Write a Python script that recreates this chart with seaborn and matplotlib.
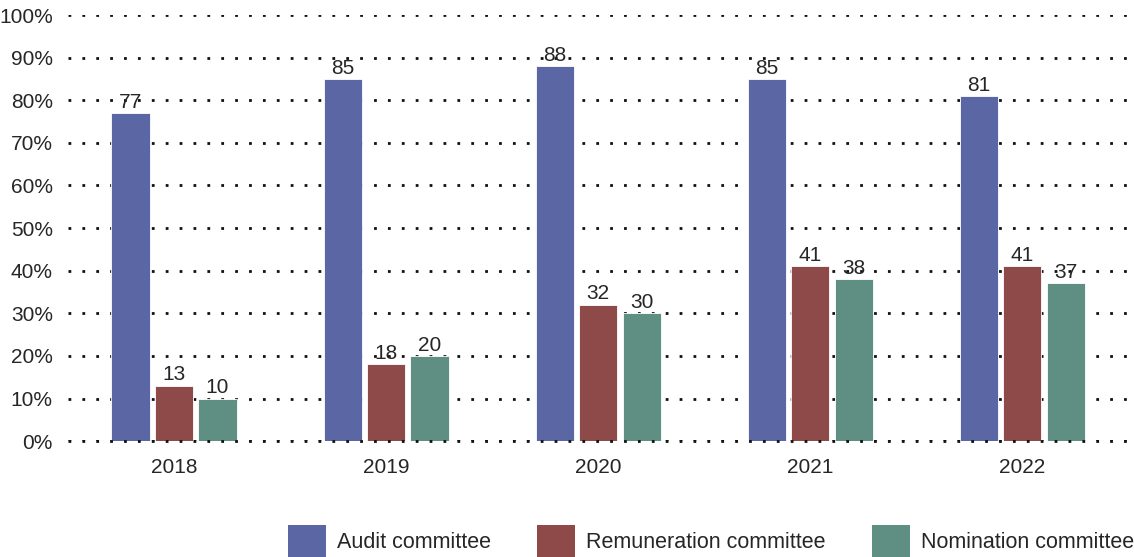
import seaborn as sns
import pandas as pd
from matplotlib import pyplot as plt
from matplotlib.ticker import PercentFormatter
from matplotlib.patches import Patch

years = ["2018", "2019", "2020", "2021", "2022"]
audit = [77, 85, 88, 85, 81]
remuneration = [13, 18, 32, 41, 41]
nomination = [10, 20, 30, 38, 37]
committees = ["Audit committee", "Remuneration committee", "Nomination committee"]
colors = ["#5A67A4", "#8E4A48", "#5E8F82"]

df = pd.DataFrame({
    "year": years * 3,
    "value": audit + remuneration + nomination,
    "committee": [c for c in committees for _ in years],
})

sns.set_style("white")
plt.rcParams["font.family"] = ["Liberation Sans", "DejaVu Sans"]

fig = plt.figure(figsize=(11.34, 5.57), dpi=100)
ax = fig.add_axes([0.06, 0.208, 0.935, 0.765])

g = sns.barplot(data=df, x="year", y="value", hue="committee", palette=colors,
                saturation=1, width=0.615, gap=0.12, ax=ax, legend=False, zorder=3,
                edgecolor="white", linewidth=0.6)

for cont in ax.containers:
    ax.bar_label(cont, fontsize=15, padding=1, zorder=5)

ax.set_ylim(0, 100)
ax.set_xlim(-0.5, 4.5)
ax.set_yticks(range(0, 101, 10))
ax.yaxis.set_major_formatter(PercentFormatter(decimals=0))
dots = (0, (1, 4))
ax.grid(axis="y", color="#111111", linestyle=dots, linewidth=2, zorder=1)
ax.set_axisbelow(True)
# baseline dots sit on top of the bars
ax.axhline(0, color="#111111", linestyle=dots, linewidth=2, zorder=4, clip_on=False)
ax.tick_params(axis="y", labelsize=15, length=0, pad=11)
ax.tick_params(axis="x", labelsize=15, length=0, pad=12)
ax.set_xlabel("")
ax.set_ylabel("")
for s in ax.spines.values():
    s.set_visible(False)

handles = [Patch(facecolor=c, edgecolor="none") for c in colors]
fig.legend(handles, committees, loc="lower right", bbox_to_anchor=(1.0, 0.0),
           ncol=3, frameon=False, fontsize=15.5, handlelength=1.77, handleheight=1.9,
           handletextpad=0.5, columnspacing=2.16, borderaxespad=0, borderpad=0)

fig.savefig("out.png", dpi=100)
